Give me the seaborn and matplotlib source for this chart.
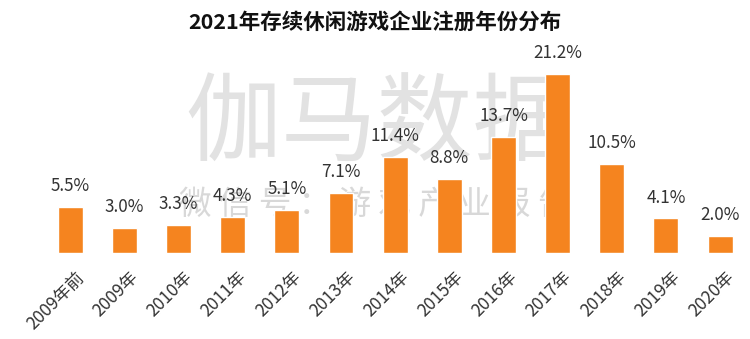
import matplotlib
matplotlib.use("Agg")
import matplotlib.pyplot as plt
import matplotlib.transforms as mtransforms
import seaborn as sns
import pandas as pd

categories = ["2009年前", "2009年", "2010年", "2011年", "2012年", "2013年", "2014年",
              "2015年", "2016年", "2017年", "2018年", "2019年", "2020年"]
values = [5.5, 3.0, 3.3, 4.3, 5.1, 7.1, 11.4, 8.8, 13.7, 21.2, 10.5, 4.1, 2.0]
value_labels = ["5.5%", "3.0%", "3.3%", "4.3%", "5.1%", "7.1%", "11.4%",
                "8.8%", "13.7%", "21.2%", "10.5%", "4.1%", "2.0%"]
title = "2021年存续休闲游戏企业注册年份分布"
watermark_big = "伽马数据"
watermark_small = "微 信 号 ： 游 戏 产 业 报 告"

sns.set_theme(style="white")
plt.rcParams["font.family"] = ["Noto Sans CJK SC", "DejaVu Sans"]

df = pd.DataFrame({"cat": categories, "val": values})

fig = plt.figure(figsize=(7.5, 3.39), dpi=100)
ax = fig.add_axes([0.0575, 0.2537, 0.9387, 0.598])
ax.set_zorder(1)
ax.patch.set_alpha(0)

# watermark behind bars
fig.text(0.503, 1 - 126 / 339, watermark_big, fontsize=69, color="#e2e2e2",
         ha="center", va="center", zorder=0.5)
fig.text(0.500, 1 - 205 / 339, watermark_small, fontsize=23.5, color="#d8d8d8",
         ha="center", va="center", zorder=0.5)

sns.barplot(data=df, x="cat", y="val", color="#F5841F", saturation=1,
            width=0.46, ax=ax, zorder=2)

for i, (v, lab) in enumerate(zip(values, value_labels)):
    ax.annotate(lab, xy=(i, v), xytext=(0, 15), textcoords="offset points",
                ha="center", va="center", fontsize=12.3, color="#333333",
                clip_on=False, zorder=3)

ax.set_xlim(-0.5, len(categories) - 0.5)
ax.set_ylim(0, 24)
ax.set_xlabel("")
ax.set_ylabel("")
ax.set_yticks([])
ax.tick_params(axis="x", length=0, pad=11)
ax.set_xticks(range(len(categories)))
ax.set_xticklabels(categories, rotation=45, ha="right", va="top",
                   rotation_mode="anchor", fontsize=12.5, color="#333333")
offset = mtransforms.ScaledTranslation(5 / 100, 0, fig.dpi_scale_trans)
for lbl in ax.get_xticklabels():
    lbl.set_transform(lbl.get_transform() + offset)
for s in ax.spines.values():
    s.set_visible(False)

fig.text(0.5, 1 - 22 / 339, title, fontsize=15.5, fontweight="bold",
         color="#111111", ha="center", va="center")

fig.savefig("out.png", dpi=100)
